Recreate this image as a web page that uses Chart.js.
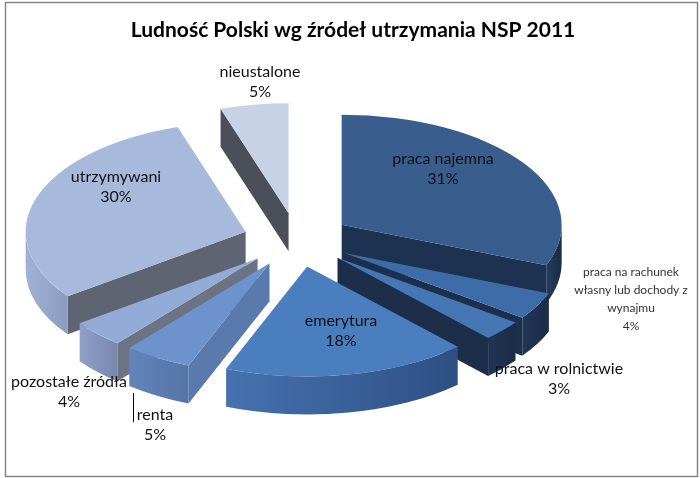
<!DOCTYPE html>
<html>
<head>
<meta charset="utf-8">
<script src="https://cdn.jsdelivr.net/npm/chart.js@4"></script>
<style>
  html, body { margin: 0; background: #fff; }
  #wrap { width: 700px; height: 478px; }
</style>
</head>
<body>
<div id="wrap"><canvas id="pieChart"></canvas></div>
<script>
var labels = ["praca najemna", "praca na rachunek własny lub dochody z wynajmu", "praca w rolnictwie", "emerytura", "renta", "pozostałe źródła", "utrzymywani", "nieustalone"];
var shares = [31, 4, 3, 18, 5, 4, 30, 5]; // percent of population

// how each label is broken into lines on the chart
var labelLines = [["praca najemna"], ["praca na rachunek", "własny lub dochody z", "wynajmu"], ["praca w rolnictwie"], ["emerytura"], ["renta"], ["pozostałe źródła"], ["utrzymywani"], ["nieustalone"]];

// colours: top face, curved wall (left -> right), radial cut face
var topColors = ["#395d8d", "#3e6ca8", "#4676b4", "#4b7ebe", "#6e93cc", "#93abd7", "#a8badb", "#c7d2e7"];
var wallColors = [["#243c5e", "#1a2c45"], ["#213656", "#1a2c45"], ["#213656", "#1a2c45"], ["#4672b0", "#2d5083"], ["#6384ba", "#5574a8"], ["#8fa1c8", "#7787ae"], ["#a2b2d2", "#8a9bbe"], ["#b4c0d8", "#9aa6c0"]];
var cutColors = ["#1d3150", "#1c2f4c", "#1c2e4a", "#2f5386", "#5a79ad", "#6b7384", "#5e6471", "#4b4f5a"];

// label block centres and font sizes
var labelPos = [[443, 169], [631, 299], [559, 379], [341, 331], [155, 425], [69, 392], [116, 187], [260, 82]];
var labelSize = [16, 12, 16, 16, 16, 16, 16, 16];

var TILT = 0.5;     // vertical squash of the pie
var DEPTH = 38;     // thickness of the pie
var EXPLODE = 54;   // how far slices are pulled out

var pie3d = {
  id: "pie3d",
  beforeDatasetsDraw: function (chart) {
    var ctx = chart.ctx;
    var arcs = chart.getDatasetMeta(0).data;
    var order = arcs.map(function (a, i) { return i; });
    order.sort(function (i, j) {
      return Math.sin((arcs[i].startAngle + arcs[i].endAngle) / 2) - Math.sin((arcs[j].startAngle + arcs[j].endAngle) / 2);
    });

    order.forEach(function (i) {
      var a = arcs[i];
      var s = a.startAngle, e = a.endAngle, m = (s + e) / 2, r = a.outerRadius;
      var cx = a.x + Math.cos(m) * EXPLODE;
      var cy = a.y + Math.sin(m) * EXPLODE * TILT;
      var px = function (t) { return cx + Math.cos(t) * r; };
      var py = function (t) { return cy + Math.sin(t) * r * TILT; };

      var cut = function (t) {
        ctx.beginPath();
        ctx.moveTo(cx, cy);
        ctx.lineTo(px(t), py(t));
        ctx.lineTo(px(t), py(t) + DEPTH);
        ctx.lineTo(cx, cy + DEPTH);
        ctx.closePath();
        ctx.fillStyle = cutColors[i];
        ctx.fill();
      };
      if (Math.cos(s) < -1e-6) cut(s);
      if (Math.cos(e) > 1e-6) cut(e);

      // front part of the curved wall
      var ws = Math.max(s, 0), we = Math.min(e, Math.PI);
      if (ws < we) {
        var g = ctx.createLinearGradient(px(we), 0, px(ws), 0);
        g.addColorStop(0, wallColors[i][0]);
        g.addColorStop(1, wallColors[i][1]);
        ctx.beginPath();
        ctx.ellipse(cx, cy, r, r * TILT, 0, ws, we);
        ctx.lineTo(px(we), py(we) + DEPTH);
        ctx.ellipse(cx, cy + DEPTH, r, r * TILT, 0, we, ws, true);
        ctx.closePath();
        ctx.fillStyle = g;
        ctx.fill();
      }

      // top face is the Chart.js arc itself, squashed
      ctx.save();
      ctx.translate(cx, cy);
      ctx.scale(1, TILT);
      ctx.translate(-a.x, -a.y);
      a.draw(ctx);
      ctx.restore();
    });
    return false;
  },
  afterDraw: function (chart) {
    var ctx = chart.ctx;
    ctx.save();
    // frame
    ctx.strokeStyle = "#868686";
    ctx.lineWidth = 1.5;
    ctx.strokeRect(5.5, 2.5, 692, 474);

    // title
    ctx.fillStyle = "#000";
    ctx.textAlign = "center";
    ctx.textBaseline = "middle";
    ctx.font = "bold 21px Lato";
    ctx.fillText("Ludność Polski wg źródeł utrzymania NSP 2011", 353, 30);

    // data labels
    labelLines.forEach(function (lines, i) {
      var size = labelSize[i];
      var lh = size < 14 ? size + 6 : size + 4;
      var all = lines.concat([shares[i] + "%"]);
      var y0 = labelPos[i][1] - (all.length - 1) * lh / 2;
      ctx.font = size + "px Lato";
      ctx.fillStyle = size < 14 ? "#333" : "#111";
      all.forEach(function (t, k) {
        ctx.fillText(t, labelPos[i][0], y0 + k * lh);
      });
    });

    // leader line for "renta"
    ctx.strokeStyle = "#000";
    ctx.lineWidth = 1;
    ctx.beginPath();
    ctx.moveTo(133.5, 393);
    ctx.lineTo(133.5, 422);
    ctx.stroke();
    ctx.restore();
  }
};

var ctx = document.getElementById("pieChart").getContext("2d");
var pieChart = new Chart(ctx, {
  type: "pie",
  data: {
    labels: labels,
    datasets: [{
      data: shares,
      backgroundColor: topColors,
      borderWidth: 0,
      radius: 220,
      clip: false
    }]
  },
  options: {
    responsive: true,
    maintainAspectRatio: false,
    animation: false,
    events: [],
    layout: { padding: { left: 0, right: 106, top: 2, bottom: 0 } },
    plugins: {
      legend: { display: false },
      title: { display: false },
      tooltip: { enabled: false }
    }
  },
  plugins: [pie3d]
});
</script>
</body>
</html>
